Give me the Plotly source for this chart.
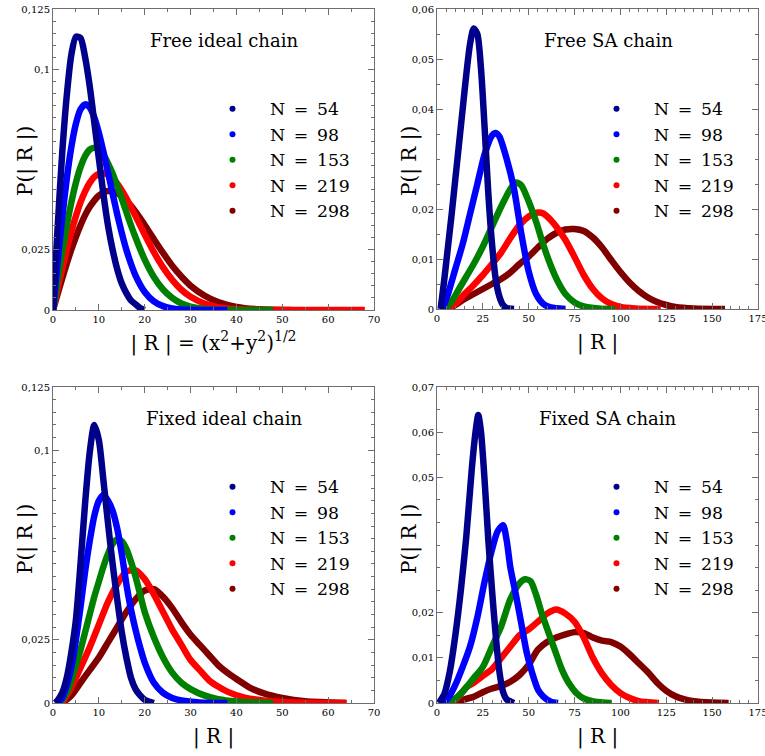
import plotly.graph_objects as go

# ---------------- data ----------------
N_LABELS = ["N\u2002=\u200254", "N\u2002=\u200298", "N\u2002=\u2002153",
            "N\u2002=\u2002219", "N\u2002=\u2002298"]
COLORS = ["#00008b", "#0000ff", "#008000", "#ff0000", "#800000"]

# Free ideal chain
FREE_IDEAL_X = [
    [0, 1, 2, 3, 4, 5, 6, 7, 8, 9, 10, 11, 12, 13, 14, 15, 16, 17, 18, 19, 20],
    [0, 1, 2, 3, 4, 5, 6, 7, 8, 9, 10, 11, 12, 13, 14, 15, 16, 17, 18, 20, 22, 24, 26, 28, 30, 34, 38],
    [0, 1, 2, 3, 4, 5, 6, 7, 8, 9, 10, 11, 12, 13, 14, 15, 16, 17, 18, 20, 22, 24, 26, 28, 30, 34, 40, 48],
    [0, 1, 2, 3, 4, 5, 6, 7, 8, 9, 10, 11, 12, 13, 14, 15, 16, 18, 20, 22, 24, 26, 28, 30, 33, 36, 40, 50, 68],
    [0, 1, 2, 3, 4, 5, 6, 7, 8, 10, 12, 14, 16, 18, 20, 22, 24, 26, 28, 30, 33, 36, 40, 45, 52],
]
FREE_IDEAL_Y = [
    [0, 0.034, 0.065, 0.089, 0.106, 0.1135, 0.113, 0.105, 0.093, 0.078, 0.063, 0.048, 0.035,
     0.025, 0.017, 0.011, 0.007, 0.004, 0.0024, 0.0008, 0],
    [0, 0.0196, 0.0381, 0.0545, 0.0677, 0.0774, 0.0833, 0.0854, 0.0841, 0.0800, 0.0736, 0.0657,
     0.0571, 0.0483, 0.0398, 0.0320, 0.0250, 0.0192, 0.0143, 0.0075, 0.0036, 0.0016, 0.0006,
     0.0002, 0.0001, 0, 0],
    [0, 0.0123, 0.0241, 0.0350, 0.0447, 0.0529, 0.0593, 0.0639, 0.0666, 0.0674, 0.0666, 0.0644,
     0.0609, 0.0567, 0.0516, 0.0462, 0.0407, 0.0352, 0.0301, 0.0209, 0.0137, 0.0085, 0.0050,
     0.0027, 0.0014, 0.0003, 0, 0],
    [0, 0.0087, 0.0171, 0.0251, 0.0325, 0.0390, 0.0447, 0.0493, 0.0528, 0.0553, 0.0566, 0.0568,
     0.0562, 0.0547, 0.0525, 0.0496, 0.0464, 0.0390, 0.0313, 0.0240, 0.0177, 0.0125, 0.0084,
     0.0055, 0.0027, 0.0012, 0.0003, 0, 0],
    [0, 0.0066, 0.0131, 0.0193, 0.0251, 0.0304, 0.0352, 0.0394, 0.0428, 0.0475, 0.0494, 0.0484,
     0.0454, 0.0408, 0.0353, 0.0294, 0.0237, 0.0184, 0.0139, 0.0101, 0.0060, 0.0033, 0.0013,
     0.0003, 0],
]

# Free SA chain
FREE_SA_X = [
    [2, 4, 6, 8, 10, 12, 14, 16, 18, 20, 22, 24, 26, 28, 30, 32, 34, 36, 38, 42],
    [3, 6, 10, 14, 18, 22, 26, 30, 32, 34, 38, 42, 46, 50, 54, 58, 62, 70],
    [4, 8, 12, 16, 20, 25, 30, 35, 40, 43, 46, 50, 54, 58, 62, 66, 70, 75, 80, 88, 97],
    [5, 10, 15, 20, 25, 30, 35, 40, 45, 50, 55, 58, 62, 66, 70, 75, 80, 85, 90, 95, 100, 108, 122],
    [6, 10, 15, 20, 25, 30, 35, 40, 45, 50, 55, 60, 65, 70, 75, 80, 85, 90, 95, 100, 105, 110,
     115, 120, 125, 130, 140, 157],
]
FREE_SA_Y = [
    [0, 0.006, 0.0125, 0.019, 0.026, 0.033, 0.040, 0.047, 0.053, 0.0561, 0.055, 0.048, 0.036,
     0.023, 0.013, 0.006, 0.0025, 0.0008, 0.0002, 0],
    [0, 0.003, 0.008, 0.013, 0.019, 0.025, 0.031, 0.0347, 0.0352, 0.0345, 0.030, 0.024, 0.015,
     0.0075, 0.003, 0.001, 0.0003, 0],
    [0, 0.0015, 0.004, 0.0065, 0.009, 0.0125, 0.0165, 0.0205, 0.024, 0.0253, 0.0247, 0.0215,
     0.0175, 0.0128, 0.0087, 0.0054, 0.003, 0.0013, 0.0005, 0.0001, 0],
    [0, 0.001, 0.003, 0.0048, 0.0068, 0.009, 0.0113, 0.0142, 0.0168, 0.0185, 0.0193, 0.0191,
     0.0178, 0.0160, 0.0138, 0.0104, 0.0068, 0.0040, 0.0021, 0.0010, 0.0004, 0.0001, 0],
    [0, 0.0008, 0.002, 0.003, 0.004, 0.005, 0.006, 0.0073, 0.009, 0.0105, 0.0123, 0.014, 0.0152,
     0.0159, 0.0160, 0.0156, 0.0143, 0.0123, 0.0098, 0.0074, 0.0053, 0.0036, 0.0023, 0.0014,
     0.0008, 0.0004, 0.0001, 0],
]

# Fixed ideal chain
FIXED_IDEAL_X = [
    [0.5, 1, 2, 3, 4, 5, 6, 7, 8, 9, 10, 11, 12, 13, 14, 15, 16, 17, 18, 19, 20, 22],
    [1, 2, 3, 4, 5, 6, 7, 8, 9, 10, 11, 12, 13, 14, 15, 16, 17, 18, 19, 20, 22, 24, 26, 28, 32, 38],
    [1.5, 3, 4, 5, 6, 7, 8, 9, 10, 11, 12, 13, 14, 15, 16, 17, 18, 19, 20, 22, 24, 26, 28, 30,
     33, 36, 40, 48],
    [2, 4, 6, 8, 10, 12, 14, 16, 18, 20, 22, 24, 26, 28, 30, 32, 34, 36, 38, 42, 46, 50, 56, 64],
    [2, 4, 6, 8, 10, 12, 14, 16, 18, 20, 22, 24, 26, 28, 30, 32, 34, 36, 38, 40, 43, 46, 50, 55, 64],
]
FIXED_IDEAL_Y = [
    [0, 0.001, 0.004, 0.010, 0.020, 0.033, 0.055, 0.079, 0.099, 0.110, 0.104, 0.088, 0.071,
     0.055, 0.041, 0.028, 0.018, 0.010, 0.0055, 0.003, 0.0013, 0],
    [0, 0.002, 0.007, 0.014, 0.025, 0.038, 0.052, 0.064, 0.074, 0.080, 0.0823, 0.080, 0.076,
     0.069, 0.059, 0.047, 0.037, 0.029, 0.022, 0.016, 0.008, 0.004, 0.002, 0.001, 0.0002, 0],
    [0, 0.004, 0.009, 0.015, 0.021, 0.028, 0.035, 0.042, 0.048, 0.054, 0.059, 0.063, 0.0647,
     0.064, 0.061, 0.056, 0.050, 0.043, 0.036, 0.026, 0.018, 0.012, 0.008, 0.0055, 0.003,
     0.0015, 0.0006, 0],
    [0, 0.006, 0.014, 0.022, 0.031, 0.040, 0.047, 0.052, 0.0525, 0.049, 0.043, 0.036, 0.029,
     0.023, 0.017, 0.013, 0.009, 0.0065, 0.0045, 0.002, 0.001, 0.0004, 0.0001, 0],
    [0, 0.003, 0.008, 0.013, 0.018, 0.024, 0.030, 0.036, 0.041, 0.0445, 0.045, 0.042, 0.0375,
     0.032, 0.027, 0.023, 0.019, 0.015, 0.012, 0.0095, 0.006, 0.0038, 0.002, 0.0007, 0],
]

# Fixed SA chain
FIXED_SA_X = [
    [1, 4, 7, 10, 13, 16, 19, 21, 22.5, 24, 26, 28, 30, 32, 34, 36, 38, 42],
    [3, 6, 10, 14, 18, 22, 26, 30, 33, 36, 38, 40, 43, 46, 49, 52, 55, 58, 62, 66],
    [5, 10, 15, 20, 25, 30, 35, 40, 45, 48, 51, 54, 57, 60, 64, 68, 72, 76, 80, 86, 95],
    [8, 12, 16, 20, 25, 30, 35, 40, 45, 50, 55, 60, 65, 70, 75, 80, 85, 90, 95, 100, 105, 110, 121],
    [10, 15, 20, 25, 30, 35, 40, 45, 50, 55, 60, 65, 70, 75, 80, 85, 90, 95, 100, 105, 110, 115,
     120, 125, 130, 135, 140, 150, 159],
]
FIXED_SA_Y = [
    [0, 0.002, 0.007, 0.015, 0.025, 0.037, 0.052, 0.060, 0.0638, 0.060, 0.049, 0.036, 0.025,
     0.015, 0.007, 0.0025, 0.0008, 0],
    [0, 0.001, 0.004, 0.008, 0.0125, 0.019, 0.027, 0.034, 0.038, 0.0394, 0.036, 0.030, 0.024,
     0.0175, 0.011, 0.0065, 0.003, 0.0014, 0.0003, 0],
    [0, 0.001, 0.003, 0.0055, 0.008, 0.0125, 0.017, 0.023, 0.0265, 0.0274, 0.027, 0.024, 0.020,
     0.0165, 0.012, 0.0075, 0.0043, 0.0022, 0.001, 0.0003, 0],
    [0, 0.0015, 0.0035, 0.0045, 0.006, 0.0075, 0.010, 0.0125, 0.015, 0.0163, 0.018, 0.0198,
     0.0207, 0.0198, 0.018, 0.0145, 0.010, 0.0065, 0.004, 0.0022, 0.0011, 0.0004, 0],
    [0, 0.0008, 0.0014, 0.0024, 0.0032, 0.0038, 0.0047, 0.0062, 0.0085, 0.0118, 0.0135, 0.0145,
     0.0152, 0.0157, 0.0155, 0.0145, 0.0138, 0.0135, 0.0125, 0.0108, 0.0088, 0.0068, 0.0045,
     0.0027, 0.0015, 0.0008, 0.0004, 0.0001, 0],
]

PANEL_TITLES = ["Free ideal chain", "Free SA chain", "Fixed ideal chain", "Fixed SA chain"]
X_TITLES = ["| R | = (x<sup>2</sup>+y<sup>2</sup>)<sup>1/2</sup>", "| R |", "| R |", "| R |"]
Y_TITLE = "P(| R |)"

IDEAL_YTICKS = [0, 0.025, 0.1, 0.125]
IDEAL_YTEXT = ["0", "0,025", "0,1", "0,125"]
FREE_SA_YTICKS = [0, 0.01, 0.02, 0.04, 0.05, 0.06]
FREE_SA_YTEXT = ["0", "0,01", "0,02", "0,04", "0,05", "0,06"]
FIXED_SA_YTICKS = [0, 0.01, 0.02, 0.05, 0.06, 0.07]
FIXED_SA_YTEXT = ["0", "0,01", "0,02", "0,05", "0,06", "0,07"]

# ---------------- layout geometry ----------------
W, H = 765, 756
SERIF = "DejaVu Serif"

panels = [
    dict(xs=FREE_IDEAL_X, ys=FREE_IDEAL_Y, px=(53, 374), py=(9, 310), xr=[0, 70], xd=10, xm=5,
         yr=[0, 0.125], yt=IDEAL_YTICKS, ytt=IDEAL_YTEXT),
    dict(xs=FREE_SA_X, ys=FREE_SA_Y, px=(437, 758), py=(9, 309), xr=[0, 175], xd=25, xm=5,
         yr=[0, 0.06], yt=FREE_SA_YTICKS, ytt=FREE_SA_YTEXT),
    dict(xs=FIXED_IDEAL_X, ys=FIXED_IDEAL_Y, px=(53, 374), py=(387, 703), xr=[0, 70], xd=10, xm=5,
         yr=[0, 0.125], yt=IDEAL_YTICKS, ytt=IDEAL_YTEXT),
    dict(xs=FIXED_SA_X, ys=FIXED_SA_Y, px=(437, 758), py=(387, 703), xr=[0, 175], xd=25, xm=5,
         yr=[0, 0.07], yt=FIXED_SA_YTICKS, ytt=FIXED_SA_YTEXT),
]

fig = go.Figure()
layout = dict(
    width=W, height=H, margin=dict(l=0, r=0, t=0, b=0, autoexpand=False),
    paper_bgcolor="white", plot_bgcolor="white",
    font=dict(family=SERIF, color="black"),
    annotations=[],
)

for i, p in enumerate(panels):
    k = "" if i == 0 else str(i + 1)
    xa, ya = "x" + k, "y" + k
    leg = "legend" + k
    # curves: drawn largest N first so N=54 ends on top
    for j in reversed(range(5)):
        fig.add_trace(go.Scatter(
            x=p["xs"][j], y=p["ys"][j], xaxis=xa, yaxis=ya, mode="lines",
            line=dict(color=COLORS[j], width=6.5, shape="spline", smoothing=0.7),
            showlegend=False, hoverinfo="skip"))
    for j in range(5):
        fig.add_trace(go.Scatter(
            x=[None], y=[None], xaxis=xa, yaxis=ya, mode="markers",
            marker=dict(color=COLORS[j], size=6), name=N_LABELS[j], legend=leg,
            showlegend=True))
    x0, x1 = p["px"]
    y0, y1 = p["py"]
    axcommon = dict(showline=True, linecolor="#6e6e6e", linewidth=1, mirror="ticks",
                    ticks="inside", ticklen=6, tickcolor="#6e6e6e", showgrid=False,
                    zeroline=False, automargin=False, ticklabeloverflow="allow",
                    tickfont=dict(family=SERIF, size=10, color="black"))
    layout["xaxis" + k] = dict(
        domain=[x0 / W, x1 / W], range=p["xr"], anchor=ya, dtick=p["xd"], tick0=0,
        minor=dict(dtick=p["xm"], ticks="inside", ticklen=3, tickcolor="#6e6e6e"),
        title=dict(text=X_TITLES[i], font=dict(family=SERIF, size=20), standoff=11),
        **axcommon)
    layout["yaxis" + k] = dict(
        domain=[1 - y1 / H, 1 - y0 / H], range=p["yr"], anchor=xa,
        tickmode="array", tickvals=p["yt"], ticktext=p["ytt"],
        minor=dict(dtick=0.005, tick0=0, ticks="inside", ticklen=3, tickcolor="#6e6e6e"),
        **axcommon)
    # panel title
    layout["annotations"].append(dict(
        text=PANEL_TITLES[i], xref="paper", yref="paper",
        x=(x0 + 171) / W, y=1 - (y0 + 32) / H, xanchor="center", yanchor="middle",
        showarrow=False, font=dict(family=SERIF, size=18, color="black")))
    # y axis title
    layout["annotations"].append(dict(
        text=Y_TITLE, xref="paper", yref="paper", textangle=-90,
        x=(x0 - 28) / W, y=1 - (y0 + 152) / H, xanchor="center", yanchor="middle",
        showarrow=False, font=dict(family=SERIF, size=20, color="black")))
    # legend
    layout[leg] = dict(
        x=(x0 + 142) / W, y=1 - (y0 + 82) / H, xanchor="left", yanchor="top",
        bgcolor="rgba(0,0,0,0)", borderwidth=0, itemwidth=65, tracegroupgap=0,
        font=dict(family=SERIF, size=17.3, color="black"))

fig.update_layout(**layout)
fig.write_html("out.html", config={"displayModeBar": False},
               post_script="document.body.style.margin='0';")
